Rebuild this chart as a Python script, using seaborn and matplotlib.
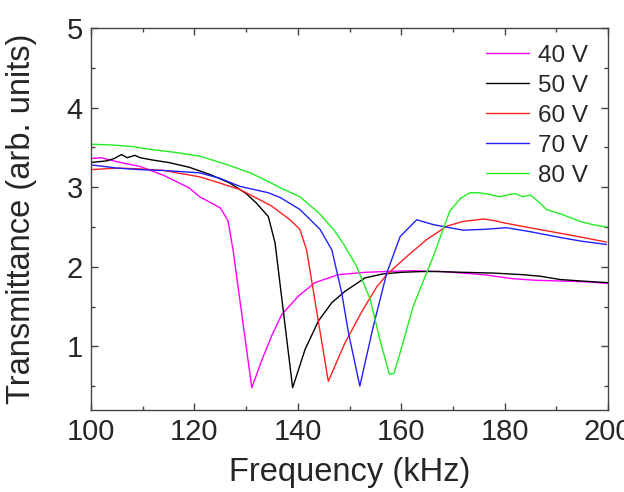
import pandas as pd
import matplotlib.pyplot as plt
from matplotlib.ticker import MultipleLocator
import seaborn as sns

# Transmittance vs frequency for several drive voltages
freq_40 = [100, 102, 105, 109.5, 114, 119, 121, 123, 125, 126.5, 127.5, 129.3, 131.1, 133, 135,
           136.9, 140.1, 143.3, 147.8, 153, 157, 162, 168, 172, 176, 181.6, 186, 191.3, 196, 200]
trans_40 = [3.36, 3.37, 3.32, 3.26, 3.15, 2.99, 2.88, 2.81, 2.74, 2.58, 2.20, 1.34, 0.48, 0.82, 1.14,
            1.40, 1.63, 1.80, 1.90, 1.93, 1.94, 1.95, 1.94, 1.92, 1.90, 1.85, 1.83, 1.82, 1.81, 1.79]

freq_50 = [100, 103, 104.5, 105.9, 107, 108.5, 109.5, 112, 115, 119, 123, 126.9, 130, 132, 134.3,
           135.6, 139.0, 141.4, 144.0, 146.6, 149.1, 153.0, 156.5, 160, 164, 166.9, 172,
           178, 183.6, 187, 190.7, 195, 200]
trans_50 = [3.31, 3.33, 3.36, 3.41, 3.37, 3.40, 3.37, 3.34, 3.31, 3.25, 3.16, 3.05, 2.92, 2.80, 2.63,
            2.30, 0.48, 0.96, 1.32, 1.55, 1.69, 1.86, 1.91, 1.93, 1.94, 1.94, 1.93,
            1.92, 1.90, 1.88, 1.84, 1.82, 1.80]

freq_60 = [100, 105, 109.5, 114, 121, 125, 128.8, 132.7, 135, 138.5, 140.4, 141.7, 145.9,
           149.1, 152.5, 155.3, 157.2, 161.1, 164.9, 168.8, 172, 175.9, 178, 180, 184.9, 190,
           195, 199.7]
trans_60 = [3.22, 3.24, 3.23, 3.21, 3.13, 3.05, 2.97, 2.84, 2.76, 2.59, 2.47, 2.21, 0.56,
            1.04, 1.45, 1.75, 1.90, 2.13, 2.34, 2.51, 2.57, 2.60, 2.58, 2.55, 2.49, 2.43,
            2.37, 2.31]

freq_70 = [100, 105, 109.5, 114, 121, 125, 128.8, 134.3, 136.6, 140.4, 144.3, 146.6, 148.5, 149.8,
           152.0, 154.6, 157.2, 159.8, 163.0, 166.2, 169.4, 172.0, 176, 180.4, 185, 191.4,
           195, 199.7]
trans_70 = [3.28, 3.24, 3.22, 3.21, 3.18, 3.11, 3.01, 2.93, 2.87, 2.72, 2.47, 2.21, 1.67, 1.17,
            0.50, 1.25, 1.92, 2.38, 2.59, 2.53, 2.49, 2.46, 2.47, 2.49, 2.44, 2.36,
            2.32, 2.28]

freq_80 = [100, 104, 108, 112, 116, 121, 126, 130.8, 134.3, 137, 140.4, 144, 146.9, 149, 151.4,
           154.0, 155.9, 157.7, 158.6, 159.8, 162.3, 166.2, 169.4, 171.5, 173.3, 175,
           177, 179, 180.4, 182, 183.5, 185, 186.5, 188.1, 191, 194.6, 197, 199.7]
trans_80 = [3.54, 3.53, 3.51, 3.47, 3.44, 3.39, 3.29, 3.18, 3.07, 2.98, 2.88, 2.68, 2.47, 2.27, 2.00,
            1.59, 1.08, 0.65, 0.66, 0.92, 1.50, 2.13, 2.70, 2.86, 2.93, 2.93,
            2.91, 2.88, 2.90, 2.92, 2.88, 2.90, 2.82, 2.72, 2.66, 2.57, 2.53, 2.50]

voltages = ['40 V', '50 V', '60 V', '70 V', '80 V']
colors = ['#ff00ff', '#000000', '#ff2020', '#2020ff', '#22ee22']

series = [(freq_40, trans_40), (freq_50, trans_50), (freq_60, trans_60),
          (freq_70, trans_70), (freq_80, trans_80)]
df = pd.concat([pd.DataFrame({'freq': f, 'trans': t, 'voltage': v})
                for (f, t), v in zip(series, voltages)], ignore_index=True)

sns.set_style('ticks')
plt.rcParams['font.family'] = ['Liberation Sans', 'DejaVu Sans']

fig = plt.figure(figsize=(6.24, 4.92), dpi=100)
ax = fig.add_axes([91 / 624, 1 - 410 / 492, (608 - 91) / 624, (410 - 28) / 492])

sns.lineplot(data=df, x='freq', y='trans', hue='voltage', hue_order=voltages,
             palette=dict(zip(voltages, colors)), estimator=None, sort=False,
             linewidth=1.0, ax=ax)

ax.set_xlim(100, 200)
ax.set_ylim(0.2, 5)
ax.xaxis.set_major_locator(MultipleLocator(20))
ax.xaxis.set_minor_locator(MultipleLocator(10))
ax.yaxis.set_major_locator(MultipleLocator(1))
ax.yaxis.set_minor_locator(MultipleLocator(0.5))
ax.tick_params(which='both', direction='in', top=True, right=True, color='#444444',
               labelsize=21, pad=6)
ax.tick_params(which='major', length=5, width=1)
ax.tick_params(which='minor', length=3, width=1)
for sp in ax.spines.values():
    sp.set_color('#444444')
    sp.set_linewidth(1.0)

ax.set_xlabel('Frequency (kHz)', fontsize=23.5, labelpad=8)
ax.set_ylabel('Transmittance (arb. units)', fontsize=23.5, labelpad=21)

handles, labels = ax.get_legend_handles_labels()
ax.legend(handles, labels, loc='upper right', bbox_to_anchor=(0.99, 0.995), frameon=False,
          fontsize=17.5, handlelength=1.75, handletextpad=0.4, labelspacing=0.33,
          borderaxespad=0.2)

fig.savefig('out.png', dpi=100)
